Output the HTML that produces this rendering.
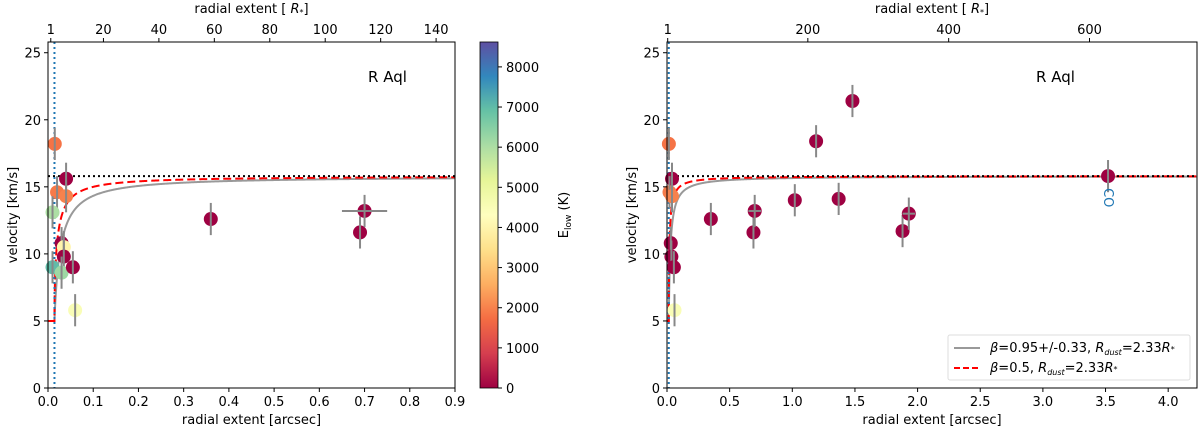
<!DOCTYPE html>
<html><head><meta charset="utf-8"><style>
body{margin:0;background:#fff;width:1200px;height:432px;overflow:hidden}
svg text{font-family:"DejaVu Sans","Liberation Sans",sans-serif;font-size:13px;fill:#000}
</style></head><body>
<svg id="s" width="1200" height="432" viewBox="0 0 1200 432">
<defs><linearGradient id="cm" x1="0" y1="1" x2="0" y2="0">
<stop offset="0" stop-color="#9e0142"/><stop offset="0.1" stop-color="#d53e4f"/><stop offset="0.2" stop-color="#f46d43"/><stop offset="0.3" stop-color="#fdae61"/><stop offset="0.4" stop-color="#fee08b"/><stop offset="0.5" stop-color="#ffffbf"/><stop offset="0.6" stop-color="#e6f598"/><stop offset="0.7" stop-color="#abdda4"/><stop offset="0.8" stop-color="#66c2a5"/><stop offset="0.9" stop-color="#3288bd"/><stop offset="1" stop-color="#5e4fa2"/></linearGradient></defs>
</svg>
<script>
// data
const leftX=[0.015,0.04,0.02,0.04,0.01,0.03,0.035,0.035,0.01,0.03,0.055,0.06,0.36,0.69,0.70];
const leftV=[18.2,15.6,14.6,14.3,13.1,10.8,10.5,9.8,9.0,8.6,9.0,5.8,12.6,11.6,13.2];
const leftE=[1800,0,1900,2000,6000,0,4000,0,7000,6200,0,4500,0,0,0];
const rightX=[0.015,0.04,0.02,0.04,0.03,0.035,0.055,0.06,0.35,0.69,0.70,1.02,1.19,1.37,1.48,1.88,1.93,3.52];
const rightV=[18.2,15.6,14.6,14.3,10.8,9.8,9.0,5.8,12.6,11.6,13.2,14.0,18.4,14.1,21.4,11.7,13.0,15.8];
const rightE=[1800,0,1900,2000,0,0,0,4500,0,0,0,0,0,0,0,0,0,0];
const xErrIdx=[0.70,1.93];
const yTicks=[0,5,10,15,20,25];
const leftXTicks=[0,0.1,0.2,0.3,0.4,0.5,0.6,0.7,0.8,0.9];
const rightXTicks=[0,0.5,1,1.5,2,2.5,3,3.5,4];
const leftTopTicks=[1,20,40,60,80,100,120,140];
const rightTopTicks=[1,200,400,600];
const cbTicks=[0,1000,2000,3000,4000,5000,6000,7000,8000];
const vinf=15.8,v0=5,Rd=2.33;
const S=document.getElementById('s');const NS='http://www.w3.org/2000/svg';
function el(t,a,p){const e=document.createElementNS(NS,t);for(const k in a)e.setAttribute(k,a[k]);(p||S).appendChild(e);return e;}
const stops=['#9e0142','#d53e4f','#f46d43','#fdae61','#fee08b','#ffffbf','#e6f598','#abdda4','#66c2a5','#3288bd','#5e4fa2'];
function cmap(v){let t=Math.max(0,Math.min(1,v/8620))*10;let i=Math.min(9,Math.floor(t)),f=t-i;
 const a=stops[i],b=stops[i+1];const c=k=>Math.round(parseInt(a.substr(k,2),16)*(1-f)+parseInt(b.substr(k,2),16)*f);
 return `rgb(${c(1)},${c(3)},${c(5)})`;}
const Y0=388,Y1=42,YMAX=25.8;const ys=v=>Y0-(v/YMAX)*(Y0-Y1);
function panel(p){
 const g=el('g',{});
 const xs=x=>p.x0+(x/p.xmax)*(p.x1-p.x0);
 for(const [beta,col,dash,nm] of [[0.95,'#999','', 'fit-curve-beta-095'],[0.5,'#f00','8,4','fit-curve-beta-05']]){
  let d=`M${xs(0)},${ys(v0)} L${xs(Rd*p.rs)},${ys(v0)}`;
  for(let i=1;i<=600;i++){const r=Rd*Math.pow(p.xmax/p.rs/Rd,i/600);const v=v0+(vinf-v0)*Math.pow(1-Rd/r,beta);d+=` L${xs(r*p.rs)},${ys(v)}`;}
  const e=el('path',{d,fill:'none',stroke:col,'stroke-width':2,'stroke-dasharray':dash},g);
 }
 const hl=el('line',{x1:p.x0,x2:p.x1,y1:ys(vinf),y2:ys(vinf),stroke:'#000','stroke-width':2,'stroke-dasharray':'2,3'},g);
 const vl=el('line',{x1:xs(Rd*p.rs),x2:xs(Rd*p.rs),y1:Y1,y2:Y0,stroke:'#1f77b4','stroke-width':2,'stroke-dasharray':'2,3'},g);
 p.X.forEach((x,i)=>{
  const cx=xs(x),cy=ys(p.V[i]);
  const c=el('circle',{cx,cy,r:7,fill:cmap(p.E[i])},g);
  const eb=el('line',{x1:cx,x2:cx,y1:ys(p.V[i]-1.2),y2:ys(p.V[i]+1.2),stroke:'#888','stroke-width':2},g);
  if(xErrIdx.includes(x)){const h=el('line',{x1:xs(x-0.05),x2:xs(x+0.05),y1:cy,y2:cy,stroke:'#888','stroke-width':2},g);}
 });
 const fr=el('rect',{x:p.x0,y:Y1,width:p.x1-p.x0,height:Y0-Y1,fill:'none',stroke:'#000','stroke-width':1},g);
 yTicks.forEach(t=>{el('line',{x1:p.x0-4,x2:p.x0,y1:ys(t),y2:ys(t),stroke:'#000'},g);const tx=el('text',{x:p.x0-7,y:ys(t)+5,'text-anchor':'end'},g);tx.textContent=t;});
 p.xt.forEach(t=>{el('line',{x1:xs(t),x2:xs(t),y1:Y0,y2:Y0+4,stroke:'#000'},g);const tx=el('text',{x:xs(t),y:Y0+18,'text-anchor':'middle'},g);tx.textContent=t.toFixed(1);});
 p.tt.forEach(t=>{const x=xs(t*p.ts);el('line',{x1:x,x2:x,y1:Y1-4,y2:Y1,stroke:'#000'},g);const tx=el('text',{x:x,y:Y1-8,'text-anchor':'middle'},g);tx.textContent=t;});
 let t=el('text',{x:(p.x0+p.x1)/2,y:424,'text-anchor':'middle'},g);t.textContent='radial extent [arcsec]';
 t=el('text',{x:(p.x0+p.x1)/2,y:13,'text-anchor':'middle'},g);t.innerHTML='radial extent [ <tspan font-style="italic">R</tspan><tspan font-size="8" dy="2">*</tspan><tspan dy="-2">]</tspan>';
 t=el('text',{x:p.x0-31,y:(Y0+Y1)/2,'text-anchor':'middle',transform:`rotate(-90 ${p.x0-31} ${(Y0+Y1)/2})`},g);t.textContent='velocity [km/s]';
 t=el('text',{x:p.lx,y:82},g);t.setAttribute('style','font-size:15px');t.textContent='R Aql';
 return xs;
}
panel({name:'left-panel',x0:48,x1:455,xmax:0.9,rs:0.00613,ts:0.00613,X:leftX,V:leftV,E:leftE,xt:leftXTicks,tt:leftTopTicks,lx:368});
const xsR=panel({name:'right-panel',x0:667,x1:1197,xmax:4.23,rs:0.00613,ts:0.00562,X:rightX,V:rightV,E:rightE,xt:rightXTicks,tt:rightTopTicks,lx:1036});
let cox=xsR(3.52)-4,coy=ys(15.8)+12;
let co=el('text',{x:cox,y:coy,transform:`rotate(90 ${cox} ${coy})`});co.setAttribute('style','fill:#1f77b4;font-size:13px');co.textContent='CO';
const cb=el('rect',{x:480,y:42,width:18,height:346,fill:'url(#cm)',stroke:'#000','stroke-width':0.8});
cbTicks.forEach(t=>{const y=388-t/8620*346;el('line',{x1:498,x2:502,y1:y,y2:y,stroke:'#000'});const tx=el('text',{x:506,y:y+5});tx.textContent=t;});
let ct=el('text',{x:568,y:215,'text-anchor':'middle',transform:'rotate(-90 568 215)'});ct.innerHTML='E<tspan font-size="9" dy="3">low</tspan><tspan dy="-3"> (K)</tspan>';
const lg=el('g',{});
el('rect',{x:948,y:335,width:242,height:45,fill:'#fff',stroke:'#ddd',rx:2},lg);
el('line',{x1:954,x2:980,y1:348,y2:348,stroke:'#999','stroke-width':2},lg);
el('line',{x1:954,x2:980,y1:368,y2:368,stroke:'#f00','stroke-width':2,'stroke-dasharray':'6,3'},lg);
let l1=el('text',{x:990,y:352},lg);l1.innerHTML='<tspan font-style="italic">β</tspan>=0.95+/-0.33, <tspan font-style="italic">R</tspan><tspan font-size="8" dy="3" font-style="italic">dust</tspan><tspan dy="-3">=2.33</tspan><tspan font-style="italic">R</tspan><tspan font-size="8">*</tspan>';
let l2=el('text',{x:990,y:372},lg);l2.innerHTML='<tspan font-style="italic">β</tspan>=0.5, <tspan font-style="italic">R</tspan><tspan font-size="8" dy="3" font-style="italic">dust</tspan><tspan dy="-3">=2.33</tspan><tspan font-style="italic">R</tspan><tspan font-size="8">*</tspan>';
</script>
</body></html>
